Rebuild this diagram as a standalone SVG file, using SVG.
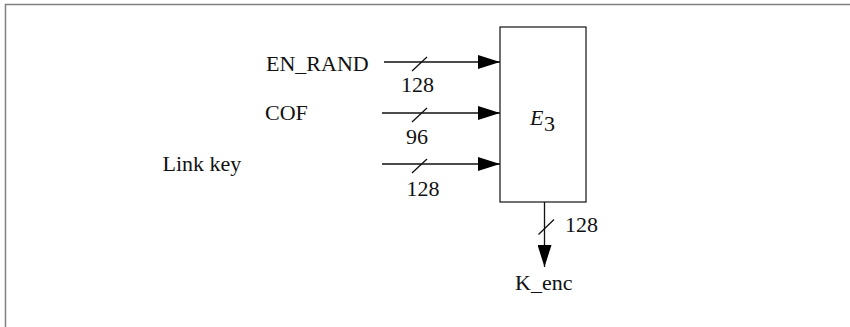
<svg xmlns="http://www.w3.org/2000/svg" width="850" height="327" viewBox="0 0 850 327">
<style>
.t{font-family:"Liberation Serif","Times New Roman",serif;font-size:22px;fill:#111}
.ln{stroke:#111;stroke-width:1.3;fill:none}
</style>
<defs>
<marker id="ah" markerWidth="22" markerHeight="14" refX="22" refY="7" orient="auto" markerUnits="userSpaceOnUse">
<path d="M0,0 L22,7 L0,14 Z" fill="#000"/>
</marker>
</defs>
<rect width="850" height="327" fill="#fff"/>
<path d="M5.5,327 V4.5 H850" fill="none" stroke="#808080" stroke-width="1.5"/>
<g id="E3">
<rect x="500" y="27" width="86" height="175" fill="#fff" stroke="#111" stroke-width="1.2"/>
<text class="t" x="530" y="125" font-style="italic">E</text>
<text class="t" x="544" y="131" font-size="15">3</text>
</g>
<g id="EN_RAND"><text class="t" x="266" y="70.5">EN_RAND</text></g>
<g id="COF"><text class="t" x="265" y="120">COF</text></g>
<g id="LinkKey"><text class="t" x="162.5" y="170.5">Link key</text></g>
<g id="Kenc"><text class="t" x="515" y="290">K_enc</text></g>
<g id="connectors">
<line class="ln" x1="384" y1="62" x2="500" y2="62" marker-end="url(#ah)"/>
<line class="ln" x1="412" y1="71" x2="427" y2="57"/>
<text class="t" x="401" y="92">128</text>
<line class="ln" x1="382" y1="113" x2="500" y2="113" marker-end="url(#ah)"/>
<line class="ln" x1="412" y1="122" x2="427" y2="108"/>
<text class="t" x="406" y="143.5">96</text>
<line class="ln" x1="382" y1="164" x2="500" y2="164" marker-end="url(#ah)"/>
<line class="ln" x1="412" y1="173" x2="427" y2="159"/>
<text class="t" x="406.5" y="195.5">128</text>
<line class="ln" x1="544.5" y1="202" x2="544.5" y2="267" marker-end="url(#ah)"/>
<line class="ln" x1="538.5" y1="234.5" x2="554" y2="219.5"/>
<text class="t" x="565" y="231.5">128</text>
</g>
</svg>
